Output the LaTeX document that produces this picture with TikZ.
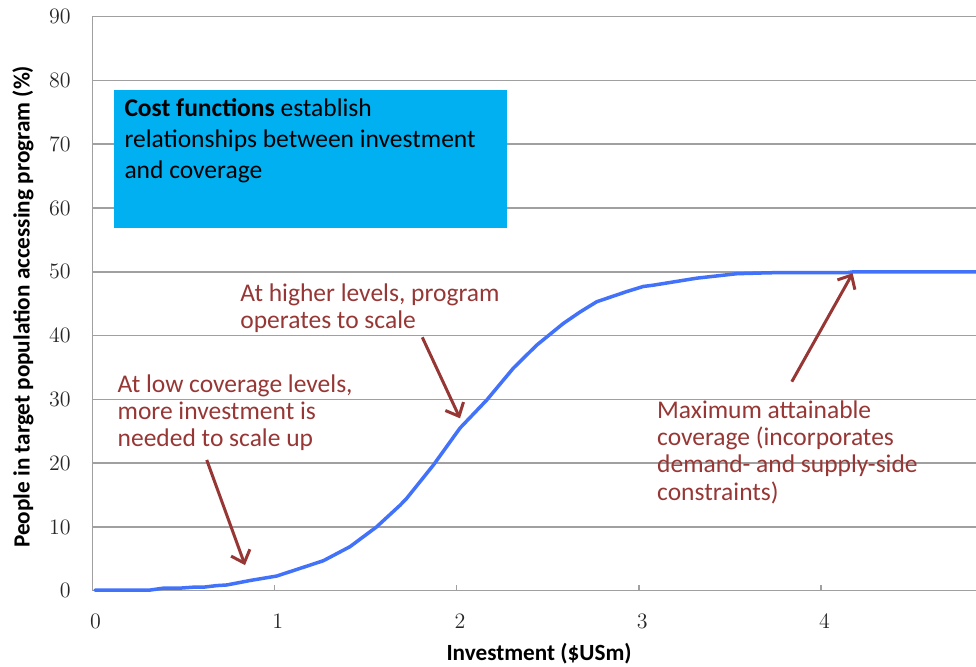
\documentclass[tikz,border=0pt]{standalone}
\usepackage{fontspec}
\newfontfamily\calibri{Carlito}
\usetikzlibrary{arrows.meta}
\definecolor{boxblue}{RGB}{0,176,240}
\definecolor{curveblue}{RGB}{66,114,250}
\definecolor{notered}{RGB}{150,55,53}
\definecolor{gridgrey}{RGB}{160,160,160}

\begin{document}
\begin{tikzpicture}[x=91.1pt,y=3.189pt,
  gridline/.style={gridgrey, line width=0.75pt},
  note/.style={notered, anchor=base west, align=left, inner sep=0pt, font=\calibri\fontsize{12.75}{13.65}\selectfont},
  pointer/.style={notered, line width=1.5pt, -{Straight Barb[length=5.5pt,width=10pt]}},
  ticklabel/.style={inner sep=0pt, text=black!85, font=\fontsize{11}{13}\selectfont},
  axistitle/.style={inner sep=0pt, font=\calibri\bfseries\fontsize{11.6}{13}\selectfont}]
\useasboundingbox (-0.5066,-11.806) rectangle (4.850,92.615);
% grid and axes
\foreach \y in {10,20,...,90} \draw[gridline] (0,\y) -- (4.85,\y);
\draw[gridline] (0,90) -- (0,0) -- (4.85,0);
\foreach \x in {1,...,4} \draw[gridline] (\x,0) -- (\x,0.95);
\foreach \y in {0,10,...,90} \node[ticklabel, anchor=east] (ylab\y) at (-0.117,\y) {\y};
\foreach \x in {0,...,4} \node[ticklabel, anchor=base] (xlab\x) at (\x+0.018,-5.96) {\x};
\node[axistitle, rotate=90] (ytitle) at (-0.380,44.5) {People in target population accessing program (\%)};
\node[axistitle, anchor=base] (xtitle) at (2.452,-10.87) {Investment (\$USm)};
% cost function box
\fill[boxblue] (0.119,56.9) rectangle (2.274,78.5);
\node[note, text=black, font=\calibri\fontsize{12.75}{15.4}\selectfont] (costtext) at (0.1745,64.66)
  {\textbf{Cost functions} establish\\relationships between investment\\and coverage};
% coverage curve
\draw[curveblue, line width=1.75pt, line join=round, line cap=round] plot coordinates {
  (0.015,0.1) (0.317,0.1) (0.39,0.4) (0.48,0.4) (0.554,0.55) (0.609,0.55)
  (0.683,0.8) (0.738,0.9) (0.866,1.6) (1.012,2.3) (1.14,3.5) (1.268,4.7)
  (1.414,6.9) (1.56,10.0) (1.689,13.4) (1.726,14.5) (1.872,19.7) (2.018,25.5)
  (2.165,29.9) (2.311,34.9) (2.439,38.5) (2.585,41.9) (2.677,43.7) (2.768,45.3)
  (2.933,46.9) (3.024,47.7) (3.079,47.9) (3.317,49.0) (3.537,49.7) (3.72,49.85)
  (4.14,49.86) (4.18,50.0) (4.85,50.0)};
% annotations
\coordinate (lowtail) at (0.628,20.5);
\coordinate (lowtip) at (0.838,4.01);
\coordinate (hightail) at (1.811,39.73);
\coordinate (hightip) at (2.018,27.03);
\coordinate (maxtail) at (3.839,32.77);
\coordinate (maxtip) at (4.173,49.77);
\draw[pointer] (lowtail) -- (lowtip);
\draw[pointer] (hightail) -- (hightip);
\draw[pointer] (maxtail) -- (maxtip);
\node[note] (lownote) at (0.137,22.58) {At low coverage levels,\\more investment is\\needed to scale up};
\node[note] (highnote) at (0.8106,41.14) {At higher levels, program\\operates to scale};
\node[note] (maxnote) at (3.098,14.22) {Maximum attainable\\coverage (incorporates\\demand- and supply-side\\constraints)};
\end{tikzpicture}
\end{document}
